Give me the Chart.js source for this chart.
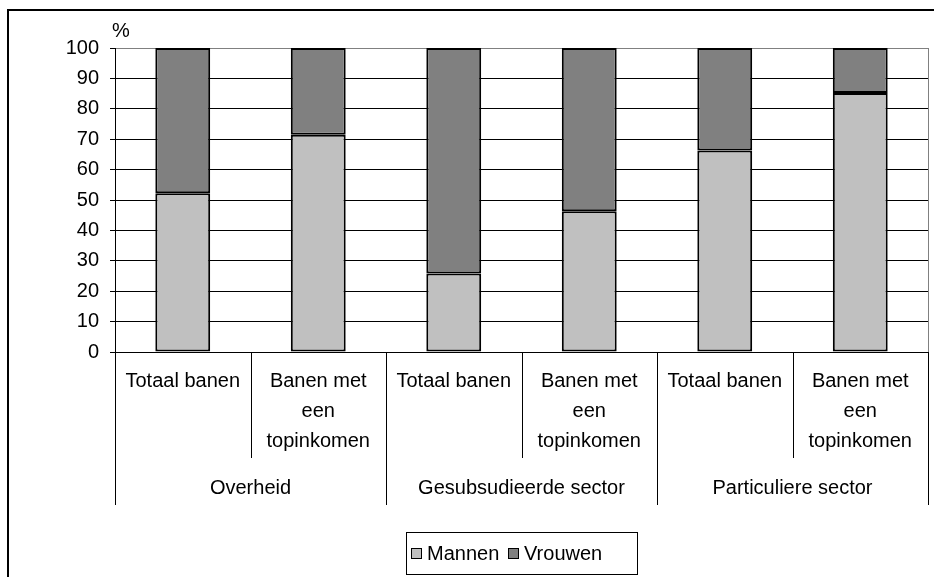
<!DOCTYPE html>
<html>
<head>
<meta charset="utf-8">
<script src="https://cdn.jsdelivr.net/npm/chart.js@4"></script>
<style>
  body { margin: 0; background: #fff; }
  #wrap { width: 934px; height: 577px; position: relative; }
</style>
</head>
<body>
<div id="wrap"><canvas id="chart"></canvas></div>
<script>
// DATA
const subLabels = [
  ["Totaal banen"],
  ["Banen met", "een", "topinkomen"],
  ["Totaal banen"],
  ["Banen met", "een", "topinkomen"],
  ["Totaal banen"],
  ["Banen met", "een", "topinkomen"],
];
const groupLabels = ["Overheid", "Gesubsudieerde sector", "Particuliere sector"];
const mannen = [52.2, 71.5, 25.8, 46.3, 66.3, 85.2];
const vrouwen = [47.8, 28.5, 74.2, 53.7, 33.7, 14.8];
const seriesNames = ["Mannen", "Vrouwen"];
const yTicks = [0, 10, 20, 30, 40, 50, 60, 70, 80, 90, 100];

const LIGHT = "#c0c0c0";
const DARK = "#808080";
const FONT = "20px 'Liberation Sans', Arial, sans-serif";

// draws frame, % label, category labels and legend
const decorPlugin = {
  id: "decor",
  beforeDraw(chart) {
    const c = chart.ctx;
    c.save();
    c.fillStyle = "#fff";
    c.fillRect(0, 0, chart.width, chart.height);
    c.strokeStyle = "#000";
    c.lineWidth = 2;
    c.beginPath();
    c.moveTo(8, chart.height);
    c.lineTo(8, 10);
    c.lineTo(chart.width, 10);
    c.stroke();
    c.restore();
  },
  afterDraw(chart) {
    const c = chart.ctx;
    const x = chart.scales.x;
    const area = chart.chartArea;
    const step = x.getPixelForValue(1) - x.getPixelForValue(0);
    c.save();
    c.font = FONT;
    c.fillStyle = "#000";
    c.textAlign = "center";
    c.textBaseline = "middle";

    // "%" label
    c.fillText("%", 121, 31);

    // plot border right
    c.strokeStyle = "#808080";
    c.lineWidth = 1;
    c.beginPath();
    c.moveTo(Math.round(area.right) + 0.5, area.top);
    c.lineTo(Math.round(area.right) + 0.5, area.bottom);
    c.stroke();

    // separators
    c.strokeStyle = "#000";
    for (let i = 0; i <= subLabels.length; i++) {
      const px = Math.round(x.getPixelForValue(0) - step / 2 + i * step) + 0.5;
      const bottom = i % 2 === 0 ? 505 : 458;
      c.beginPath();
      c.moveTo(px, area.bottom);
      c.lineTo(px, bottom);
      c.stroke();
    }

    // sub labels
    subLabels.forEach((lines, i) => {
      const cx = x.getPixelForValue(i);
      lines.forEach((t, j) => c.fillText(t, cx, 381 + j * 30));
    });

    // group labels
    groupLabels.forEach((t, g) => {
      const cx = (x.getPixelForValue(g * 2) + x.getPixelForValue(g * 2 + 1)) / 2;
      c.fillText(t, cx, 488);
    });

    // legend
    c.strokeStyle = "#000";
    c.lineWidth = 1;
    c.strokeRect(406.5, 532.5, 231, 42);
    c.textAlign = "left";
    const items = [
      { x: 411, color: LIGHT, text: seriesNames[0] },
      { x: 508, color: DARK, text: seriesNames[1] },
    ];
    items.forEach((it) => {
      c.fillStyle = it.color;
      c.fillRect(it.x + 0.5, 548.5, 10, 10);
      c.strokeRect(it.x + 0.5, 548.5, 10, 10);
      c.fillStyle = "#000";
      c.fillText(it.text, it.x + 16, 554);
    });
    c.restore();
  },
};

const ctx = document.getElementById("chart");
const myChart = new Chart(ctx, {
  type: "bar",
  data: {
    labels: subLabels.map((l) => l.join(" ")),
    datasets: [
      {
        label: seriesNames[0],
        data: mannen,
        backgroundColor: LIGHT,
        borderColor: "#000",
        borderWidth: 2,
        borderSkipped: false,
      },
      {
        label: seriesNames[1],
        data: vrouwen,
        backgroundColor: DARK,
        borderColor: "#000",
        borderWidth: 2,
        borderSkipped: false,
      },
    ],
  },
  options: {
    responsive: true,
    maintainAspectRatio: false,
    animation: false,
    layout: { padding: { top: 48, right: 6, bottom: 0, left: 0 } },
    datasets: { bar: { barPercentage: 0.405, categoryPercentage: 1 } },
    plugins: { legend: { display: false }, tooltip: { enabled: false } },
    scales: {
      x: {
        stacked: true,
        ticks: { display: false },
        grid: { display: false, drawTicks: false },
        border: { color: "#000", width: 1 },
        afterFit: (scale) => { scale.height = 225; },
      },
      y: {
        stacked: true,
        min: 0,
        max: 100,
        afterBuildTicks: (scale) => { scale.ticks = yTicks.map((v) => ({ value: v })); },
        ticks: {
          color: "#000",
          font: { family: "'Liberation Sans', Arial, sans-serif", size: 20 },
          padding: 11,
        },
        grid: {
          color: (c) => (c.tick && c.tick.value === 100 ? "#808080" : "#000"),
          tickLength: 5,
          tickColor: "#000",
        },
        border: { color: "#000", width: 1 },
        afterFit: (scale) => { scale.width = 115; },
      },
    },
  },
  plugins: [decorPlugin],
});
</script>
</body>
</html>
